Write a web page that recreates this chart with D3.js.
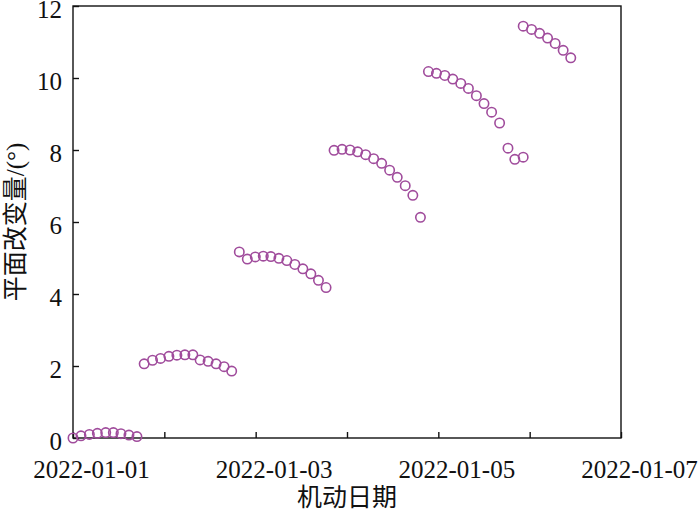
<!DOCTYPE html>
<html lang="zh">
<head>
<meta charset="UTF-8">
<title>平面改变量</title>
<script src="https://d3js.org/d3.v7.min.js"></script>
<style>
  body { margin: 0; background: #fff; }
  text { font-family: "Liberation Serif", "Noto Sans CJK SC", serif; fill: #111; }
</style>
</head>
<body>
<svg width="700" height="514"></svg>
<script>
// maneuver epochs and plane change in degrees
var maneuverTimes = [
  "2022-01-01T00:00", "2022-01-01T02:06", "2022-01-01T04:18", "2022-01-01T06:24", "2022-01-01T08:36",
  "2022-01-01T10:36", "2022-01-01T12:36", "2022-01-01T14:42", "2022-01-01T16:48",
  "2022-01-01T18:42", "2022-01-01T20:54", "2022-01-01T23:00", "2022-01-02T01:12", "2022-01-02T03:18",
  "2022-01-02T05:24", "2022-01-02T07:30", "2022-01-02T09:24", "2022-01-02T11:30", "2022-01-02T13:36",
  "2022-01-02T15:42", "2022-01-02T17:42",
  "2022-01-02T19:42", "2022-01-02T21:48", "2022-01-02T23:54", "2022-01-03T02:00", "2022-01-03T04:00",
  "2022-01-03T06:06", "2022-01-03T08:12", "2022-01-03T10:18", "2022-01-03T12:24", "2022-01-03T14:30",
  "2022-01-03T16:30", "2022-01-03T18:30",
  "2022-01-03T20:36", "2022-01-03T22:42", "2022-01-04T00:48", "2022-01-04T02:48", "2022-01-04T04:54",
  "2022-01-04T07:00", "2022-01-04T09:06", "2022-01-04T11:12", "2022-01-04T13:12", "2022-01-04T15:18",
  "2022-01-04T17:18", "2022-01-04T19:18",
  "2022-01-04T21:24", "2022-01-04T23:30", "2022-01-05T01:42", "2022-01-05T03:48", "2022-01-05T05:54",
  "2022-01-05T07:54", "2022-01-05T10:00", "2022-01-05T12:00", "2022-01-05T14:00", "2022-01-05T16:06",
  "2022-01-05T18:18", "2022-01-05T20:06", "2022-01-05T22:18",
  "2022-01-05T22:18", "2022-01-06T00:30", "2022-01-06T02:36", "2022-01-06T04:42", "2022-01-06T06:42",
  "2022-01-06T08:48", "2022-01-06T10:48"
];
var planeChange = [
  0.00, 0.06, 0.10, 0.13, 0.15, 0.15, 0.12, 0.08, 0.04,
  2.06, 2.16, 2.21, 2.27, 2.30, 2.31, 2.31, 2.17, 2.13, 2.06, 1.98, 1.86,
  5.17, 4.97, 5.03, 5.05, 5.04, 4.99, 4.93, 4.82, 4.70, 4.56, 4.38, 4.18,
  7.99, 8.02, 8.00, 7.95, 7.87, 7.76, 7.63, 7.44, 7.24, 7.01, 6.74, 6.13,
  10.18, 10.13, 10.07, 9.97, 9.85, 9.71, 9.51, 9.29, 9.05, 8.75, 8.05, 7.74, 7.80,
  11.44, 11.35, 11.24, 11.11, 10.96, 10.77, 10.56
];
var xDomain = ["2022-01-01T00:00", "2022-01-07T00:00"];
var yTicks = [0, 2, 4, 6, 8, 10, 12];
var xLabel = "机动日期";
var yLabel = "平面改变量/(°)";

var parse = d3.timeParse("%Y-%m-%dT%H:%M");
var points = maneuverTimes.map(function(t, i) {
  return { t: parse(t), v: planeChange[i] };
});

var svg = d3.select("svg");
var margin = { left: 73, right: 79, top: 6, bottom: 76 };
var width = 700 - margin.left - margin.right,
    height = 514 - margin.top - margin.bottom;

var g = svg.append("g").attr("transform", "translate(" + margin.left + "," + margin.top + ")");

var x = d3.scaleTime().domain(xDomain.map(parse)).range([0, width]);
var y = d3.scaleLinear().domain([0, 12]).range([height, 0]);

// frame
g.append("rect")
  .attr("width", width).attr("height", height)
  .attr("fill", "none").attr("stroke", "#111").attr("stroke-width", 1.4);

// x axis: tick every day, label every second day
var fmt = d3.timeFormat("%Y-%m-%d");
var xAxis = g.append("g")
  .attr("transform", "translate(0," + height + ")")
  .call(d3.axisBottom(x)
    .ticks(d3.timeDay.every(1))
    .tickSizeInner(-6).tickSizeOuter(0)
    .tickPadding(22)
    .tickFormat(function(d, i) { return i % 2 === 0 ? fmt(d) : ""; }));
xAxis.select(".domain").remove();
xAxis.selectAll(".tick line").attr("stroke", "#111").attr("stroke-width", 1.4);
xAxis.selectAll(".tick text")
  .attr("font-size", 25).attr("fill", "#111").attr("dx", 18)
  .style("font-family", "'Liberation Serif', serif");

var yAxis = g.append("g")
  .call(d3.axisLeft(y)
    .tickValues(yTicks)
    .tickSizeInner(-6).tickSizeOuter(0)
    .tickPadding(11));
yAxis.select(".domain").remove();
yAxis.selectAll(".tick line").attr("stroke", "#111").attr("stroke-width", 1.4);
yAxis.selectAll(".tick text")
  .attr("font-size", 25).attr("fill", "#111").attr("dy", "0.45em")
  .style("font-family", "'Liberation Serif', serif");

// points
g.selectAll("circle.pt")
  .data(points)
  .enter().append("circle")
  .attr("class", "pt")
  .attr("cx", function(d) { return x(d.t); })
  .attr("cy", function(d) { return y(d.v); })
  .attr("r", 4.7)
  .attr("fill", "none")
  .attr("stroke", "#a04c9c")
  .attr("stroke-width", 1.6);

// axis titles
svg.append("text")
  .attr("x", margin.left + width / 2).attr("y", 506)
  .attr("text-anchor", "middle").attr("font-size", 25)
  .text(xLabel);

svg.append("text")
  .attr("transform", "translate(24," + (margin.top + height / 2) + ") rotate(-90)")
  .attr("text-anchor", "middle").attr("font-size", 25)
  .text(yLabel);
</script>
</body>
</html>
